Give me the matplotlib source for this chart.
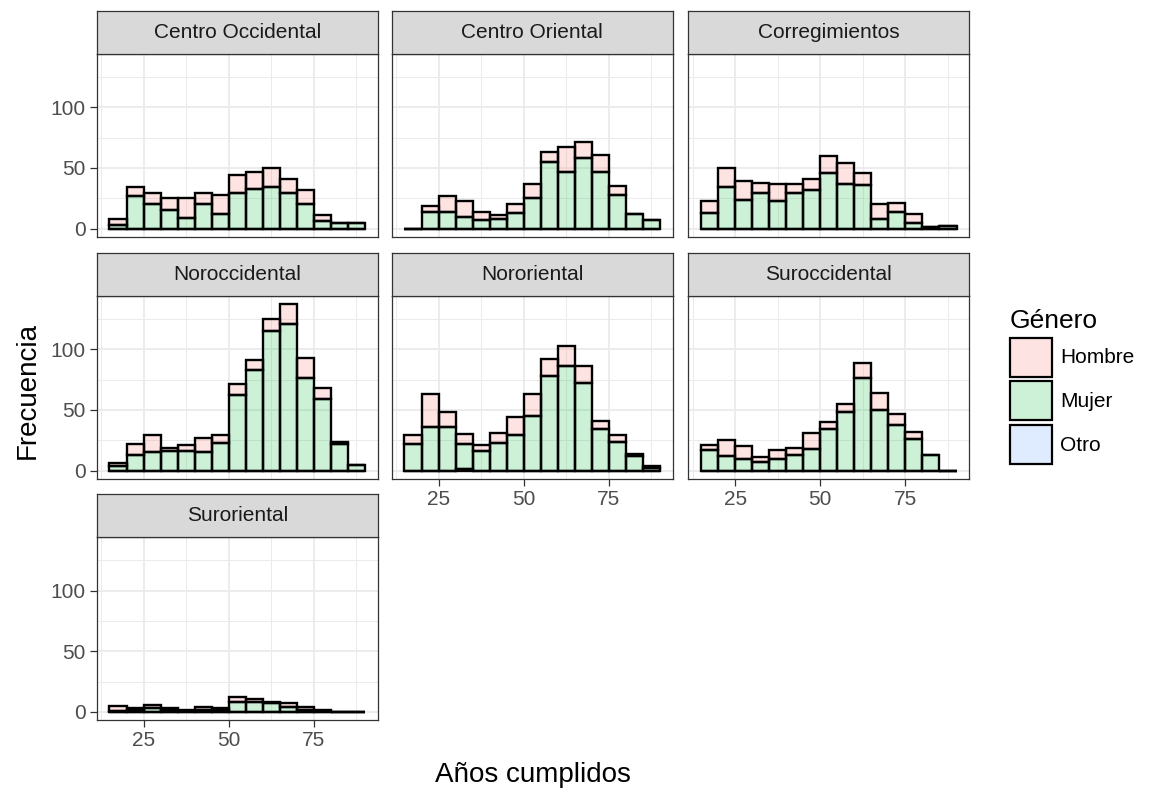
import numpy as np
import matplotlib
matplotlib.use('Agg')
import matplotlib.pyplot as plt
from matplotlib.patches import Patch
from matplotlib.colors import to_rgba

plt.rcParams['font.family'] = ['Liberation Sans', 'DejaVu Sans']

# Datos: histogramas apilados por región (bins de 5 años desde 15 hasta 90)
bordes = np.arange(15, 91, 5)
regiones = ['Centro Occidental', 'Centro Oriental', 'Corregimientos',
            'Noroccidental', 'Nororiental', 'Suroccidental', 'Suroriental']

mujer = [
    [3, 27, 20, 15, 9, 20, 12, 29, 33, 34, 29, 20, 6, 5, 5],
    [0, 14, 14, 10, 7, 8, 13, 25, 55, 47, 58, 47, 28, 12, 7],
    [13, 34, 24, 29, 23, 29, 32, 46, 37, 36, 8, 14, 5, 1, 2],
    [4, 13, 15, 16, 16, 15, 23, 62, 83, 115, 121, 76, 59, 22, 5],
    [22, 36, 36, 21, 16, 23, 29, 45, 78, 86, 72, 34, 24, 12, 2],
    [17, 12, 10, 7, 10, 13, 18, 34, 48, 76, 50, 38, 26, 13, 0],
    [1, 2, 3, 2, 1, 2, 2, 8, 8, 7, 4, 2, 1, 0, 0],
]
hombre = [
    [5, 7, 9, 10, 16, 9, 16, 15, 14, 16, 12, 12, 5, 0, 0],
    [0, 5, 13, 13, 7, 3, 7, 12, 8, 20, 13, 14, 7, 0, 0],
    [10, 16, 15, 9, 14, 8, 9, 14, 17, 10, 12, 7, 7, 0, 0],
    [2, 9, 14, 3, 5, 12, 6, 9, 8, 10, 16, 17, 9, 2, 0],
    [7, 27, 12, 8, 5, 8, 15, 18, 14, 17, 14, 7, 5, 2, 2],
    [4, 13, 10, 4, 7, 6, 13, 6, 7, 13, 14, 9, 6, 0, 0],
    [4, 1, 3, 1, 1, 2, 1, 4, 3, 1, 3, 2, 1, 0, 0],
]
otro = [
    [0] * 15,
    [0] * 15,
    [0] * 15,
    [0] * 15,
    [0, 0, 0, 1, 0, 0, 0, 0, 0, 0, 0, 0, 0, 0, 0],
    [0] * 15,
    [0] * 15,
]
generos = ['Hombre', 'Mujer', 'Otro']
colores = ['#F8766D', '#00BA38', '#619CFF']

W, H = 1150, 794
fig = plt.figure(figsize=(W / 100, H / 100), dpi=100)


def caja(x0, y0, x1, y1):
    return [x0 / W, 1 - y1 / H, (x1 - x0) / W, (y1 - y0) / H]


cols_x = [96.7, 391.7, 688.3]
filas_y = [54, 296, 537.3]
ancho, alto, alto_strip = 281, 183, 43.5

centros = (bordes[:-1] + bordes[1:]) / 2
relleno = [to_rgba(c, 0.2) for c in colores]

for i, region in enumerate(regiones):
    f, c = divmod(i, 3)
    x0, y0 = cols_x[c], filas_y[f]
    ax = fig.add_axes(caja(x0, y0, x0 + ancho, y0 + alto))

    o = np.array(otro[i])
    m = np.array(mujer[i])
    h = np.array(hombre[i])
    kw = dict(width=5, edgecolor='black', linewidth=1.7, align='center')
    ax.bar(centros, o, color=relleno[2], **kw)
    ax.bar(centros, m, bottom=o, color=relleno[1], **kw)
    ax.bar(centros, h, bottom=o + m, color=relleno[0], **kw)

    ax.set_xlim(11.25, 93.75)
    ax.set_ylim(-6.85, 143.85)
    ax.set_xticks([25, 50, 75])
    ax.set_xticks([12.5, 37.5, 62.5, 87.5], minor=True)
    ax.set_yticks([0, 50, 100])
    ax.set_yticks([25, 75, 125], minor=True)
    ax.set_axisbelow(True)
    ax.grid(which='major', color='#EBEBEB', linewidth=1.3)
    ax.grid(which='minor', color='#EBEBEB', linewidth=0.7)
    for s in ax.spines.values():
        s.set_color('#333333')
        s.set_linewidth(0.9)
    ax.tick_params(which='minor', length=0)
    ax.tick_params(which='major', length=5, width=0.9, color='#333333',
                   labelsize=15, labelcolor='#4D4D4D', pad=3)

    mostrar_x = (f == 2) or (f == 1 and c > 0)
    mostrar_y = c == 0
    ax.tick_params(axis='x', bottom=mostrar_x, labelbottom=mostrar_x)
    ax.tick_params(axis='y', left=mostrar_y, labelleft=mostrar_y)

    # Tira con el nombre de la región
    ax_s = fig.add_axes(caja(x0, y0 - alto_strip, x0 + ancho, y0))
    ax_s.set_facecolor('#D9D9D9')
    ax_s.set_xticks([])
    ax_s.set_yticks([])
    for s in ax_s.spines.values():
        s.set_color('#333333')
        s.set_linewidth(0.9)
    ax_s.text(0.5, 0.5, region, ha='center', va='center', fontsize=15,
              color='#1A1A1A', transform=ax_s.transAxes)

fig.text(533 / W, 1 - 775 / H, 'Años cumplidos', ha='center', va='center',
         fontsize=20, color='black')
fig.text(28 / W, 1 - 390 / H, 'Frecuencia', ha='center', va='center',
         rotation=90, fontsize=20, color='black')

handles = [Patch(facecolor=relleno[k], edgecolor='black', linewidth=1.6)
           for k in range(3)]
leg = fig.legend(handles, generos, title='Género', loc='upper left',
                 bbox_to_anchor=(1010 / W, 1 - 309 / H), frameon=False,
                 fontsize=15, title_fontsize=19, handlelength=2.0,
                 handleheight=2.5, handletextpad=0.4, labelspacing=0.22,
                 borderpad=0, borderaxespad=0, alignment='left')

fig.savefig('out.png', dpi=100)
